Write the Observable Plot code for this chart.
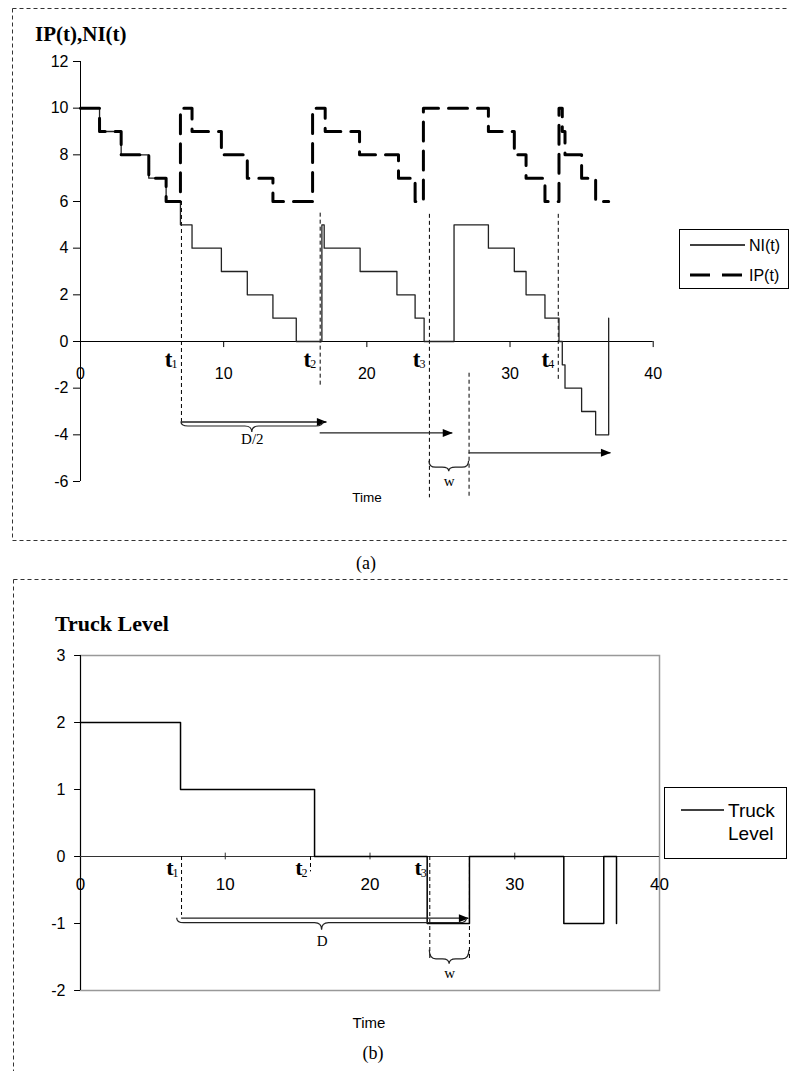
<!DOCTYPE html>
<html><head><meta charset="utf-8">
<script src="https://cdn.jsdelivr.net/npm/d3@7"></script>
<script src="https://cdn.jsdelivr.net/npm/@observablehq/plot@0.6"></script>
<style>
body{margin:0;background:#fff;}
#page{position:relative;width:789px;height:1071px;overflow:hidden;font-family:"Liberation Sans",Arial,sans-serif;color:#000;}
.abs{position:absolute;white-space:nowrap;}
.serif{font-family:"Liberation Serif","Times New Roman",serif;}
#page svg.plot{position:absolute;left:0;overflow:visible;}
</style></head><body><div id="page"></div>
<script>
// ---------- DATA ----------
// chart (a)
const xTicksA = [0, 10, 20, 30, 40];
const yTicksA = [-6, -4, -2, 0, 2, 4, 6, 8, 10, 12];
const niTime  = [0, 1.33, 2.84, 4.77, 5.98, 6.98, 7.79, 9.84, 11.65, 13.44, 15.07, 16.86, 17.02, 19.53, 22.10, 23.37, 24.00, 26.09, 28.49, 30.30, 31.12, 32.44, 33.42, 33.65, 33.84, 35.00, 35.98, 36.89];
const niValue = [10, 9, 8, 7, 6, 5, 4, 3, 2, 1, 0, 5, 4, 3, 2, 1, 0, 5, 4, 3, 2, 1, 0, -1, -2, -3, -4, 1];
const ipTime  = [0, 1.33, 2.84, 4.77, 5.98, 6.98, 7.79, 9.84, 11.65, 13.44, 16.21, 17.09, 19.49, 22.21, 23.37, 23.95, 28.49, 30.30, 31.12, 32.44, 33.42, 33.65, 33.84, 35.00, 35.98, 36.89];
const ipValue = [10, 9, 8, 7, 6, 10, 9, 8, 7, 6, 10, 9, 8, 7, 6, 10, 9, 8, 7, 6, 10, 9, 8, 7, 6, 6];
const markTimesA  = [7.05, 16.74, 24.37, 33.37, 27.14];
const markTopA    = [6, 5.5, 5.45, 5.45, -1.36];
const markBottomA = [-3.45, -2.0, -6.7, -1.7, -6.7];
const tLabelTimesA = [7.05, 16.74, 24.37, 33.37];
const tSubs = ["1", "2", "3", "4"];
const arrowStartA = [7.05, 16.74, 27.14];
const arrowEndA   = [17.21, 26.0, 37.05];
const arrowLevelA = [-3.45, -3.92, -4.77];
const braceStartA = [7.05, 24.37];
const braceEndA   = [16.95, 27.14];
const braceLevelA = [-3.45, -5.13];
const braceLabelA = ["D/2", "w"];
const braceLabelLevelA = [-4.2, -5.99];

// chart (b)
const xTicksB = [0, 10, 20, 30, 40];
const yTicksB = [-2, -1, 0, 1, 2, 3];
const truckTime  = [0, 6.91, 16.17, 23.95, 26.87, 33.39, 36.15, 37.03];
const truckLevel = [2, 1, 0, -1, 0, -1, 0, -1];
const markTimesB  = [6.98, 15.89, 24.13, 26.87];
const markTopB    = [0, 0, 0, 0];
const markBottomB = [-0.88, -0.23, -1.55, -1.55];
const tLabelTimesB = [6.98, 15.89, 24.13];
const arrowStartB = [6.98];
const arrowEndB   = [26.83];
const arrowLevelB = [-0.92];
const braceStartB = [6.68, 24.13];
const braceEndB   = [26.7, 26.87];
const braceLevelB = [-0.92, -1.40];
const braceLabelB = ["D", "w"];
const braceLabelLevelB = [-1.26, -1.74];

// ---------- helpers ----------
const page = document.getElementById("page");
const SANS = "Liberation Sans, Arial, sans-serif";
const SERIF = "Liberation Serif, Times New Roman, serif";
const arrowHead = {draw(ctx, size) {
  const r = Math.sqrt(size / Math.PI);
  ctx.moveTo(0, 0); ctx.lineTo(-2 * r, -0.8 * r); ctx.lineTo(-2 * r, 0.8 * r); ctx.closePath();
}};
function braceMark(starts, ends, levels, h1, h2) {
  return (index, scales) => {
    const g = d3.create("svg:g").attr("fill", "none").attr("stroke", "#222").attr("stroke-width", 1.2);
    starts.forEach((s, i) => {
      const x1 = scales.x(s), x2 = scales.x(ends[i]), y0 = scales.y(levels[i]);
      const xm = (x1 + x2) / 2, r = Math.min(7, (x2 - x1) / 6), yh = y0 + h1[i];
      const p = d3.path();
      p.moveTo(x1, y0);
      p.quadraticCurveTo(x1, yh, x1 + r, yh);
      p.lineTo(xm - r, yh);
      p.quadraticCurveTo(xm, yh, xm, yh + h2[i]);
      p.quadraticCurveTo(xm, yh, xm + r, yh);
      p.lineTo(x2 - r, yh);
      p.quadraticCurveTo(x2, yh, x2, y0);
      g.append("path").attr("d", p.toString());
    });
    return g.node();
  };
}
function addText(txt, css, cls) {
  const d = document.createElement("div");
  d.className = "abs " + (cls || "");
  d.textContent = txt;
  Object.assign(d.style, css);
  page.appendChild(d);
  return d;
}

// ---------- dashed frames ----------
const frameSvg = d3.create("svg").attr("width", 789).attr("height", 1071)
  .style("position", "absolute").style("left", 0).style("top", 0);
const fg = frameSvg.append("g").attr("stroke", "#333").attr("stroke-width", 1).attr("stroke-dasharray", "4,3");
fg.append("line").attr("x1", 12.5).attr("y1", 8.5).attr("x2", 795).attr("y2", 8.5);
fg.append("line").attr("x1", 12.5).attr("y1", 8.5).attr("x2", 12.5).attr("y2", 540.5);
fg.append("line").attr("x1", 12.5).attr("y1", 540.5).attr("x2", 795).attr("y2", 540.5);
fg.append("line").attr("x1", 13.5).attr("y1", 579.5).attr("x2", 795).attr("y2", 579.5);
fg.append("line").attr("x1", 13.5).attr("y1", 579.5).attr("x2", 13.5).attr("y2", 1080);
page.appendChild(frameSvg.node());

// ---------- chart (a) ----------
const ni = niTime.map((t, i) => ({t, v: niValue[i]}));
const ip = ipTime.map((t, i) => ({t, v: ipValue[i]}));
const marksA = markTimesA.map((t, i) => ({t, y1: markTopA[i], y2: markBottomA[i]}));
const arrowsA = arrowStartA.map((s, i) => ({x1: s, x2: arrowEndA[i], y: arrowLevelA[i]}));
const tLabA = tLabelTimesA.map((t, i) => ({t, s: tSubs[i]}));
const bLabA = braceLabelA.map((l, i) => ({x: (braceStartA[i] + braceEndA[i]) / 2, y: braceLabelLevelA[i], l}));

const plotA = Plot.plot({
  width: 789, height: 545,
  marginLeft: 80, marginRight: 136.3, marginTop: 61, marginBottom: 64,
  style: {fontFamily: SANS, fontSize: "16px", background: "transparent", overflow: "visible"},
  x: {domain: [0, 40], axis: null},
  y: {domain: [-6, 12], axis: null},
  marks: [
    Plot.ruleX([0], {y1: -6, y2: 12, stroke: "#000"}),
    Plot.ruleY(yTicksA, {y: d => d, x1: -0.49, x2: 0, stroke: "#000"}),
    Plot.text(yTicksA, {x: 0, y: d => d, dx: -12, text: d => String(d), textAnchor: "end", fontSize: 16, fontFamily: SANS}),
    Plot.ruleY([0], {x1: 0, x2: 40, stroke: "#000"}),
    Plot.ruleX(xTicksA.slice(1), {y1: 0, y2: -0.26, stroke: "#000"}),
    Plot.text(xTicksA, {x: d => d, y: 0, dy: 32, text: d => String(d), fontSize: 16, fontFamily: SANS}),
    Plot.ruleX(marksA, {x: "t", y1: "y1", y2: "y2", stroke: "#000", strokeWidth: 1, strokeDasharray: "4,3"}),
    Plot.line(ni, {x: "t", y: "v", curve: "step-after", stroke: "#222", strokeWidth: 1.3}),
    Plot.line(ip, {x: "t", y: "v", curve: "step-after", stroke: "#000", strokeWidth: 3, strokeDasharray: "19,10"}),
    Plot.ruleY(arrowsA, {y: "y", x1: "x1", x2: "x2", stroke: "#222", strokeWidth: 1.3}),
    Plot.dot(arrowsA, {x: "x2", y: "y", symbol: arrowHead, r: 5, fill: "#000", stroke: null}),
    braceMark(braceStartA, braceEndA, braceLevelA, [4.5, 6.5], [6, 4]),
    Plot.text(bLabA, {x: "x", y: "y", text: "l", fontSize: 15, fontFamily: SERIF}),
    Plot.text(tLabA, {x: "t", y: 0, text: () => "t", dx: -9, dy: 17.7, textAnchor: "end", fontSize: 23, fontWeight: "bold", fontFamily: SERIF}),
    Plot.text(tLabA, {x: "t", y: 0, text: "s", dx: -4, dy: 23, textAnchor: "end", fontSize: 12, fontFamily: SERIF})
  ]
});
plotA.classList.add("plot");
plotA.style.top = "0px";
page.appendChild(plotA);

// ---------- chart (b) ----------
const truck = truckTime.map((t, i) => ({t, v: truckLevel[i]}));
const marksB = markTimesB.map((t, i) => ({t, y1: markTopB[i], y2: markBottomB[i]}));
const arrowsB = arrowStartB.map((s, i) => ({x1: s, x2: arrowEndB[i], y: arrowLevelB[i]}));
const tLabB = tLabelTimesB.map((t, i) => ({t, s: tSubs[i]}));
const bLabB = braceLabelB.map((l, i) => ({x: (braceStartB[i] + braceEndB[i]) / 2, y: braceLabelLevelB[i], l}));

const plotB = Plot.plot({
  width: 789, height: 501,
  marginLeft: 80, marginRight: 130, marginTop: 85, marginBottom: 81,
  style: {fontFamily: SANS, fontSize: "16px", background: "transparent", overflow: "visible"},
  x: {domain: [0, 40], axis: null},
  y: {domain: [-2, 3], axis: null},
  marks: [
    Plot.frame({stroke: "#999", strokeWidth: 1.5}),
    Plot.ruleX([0], {y1: -2, y2: 3, stroke: "#000"}),
    Plot.ruleY(yTicksB, {y: d => d, x1: -0.41, x2: 0, stroke: "#000"}),
    Plot.text(yTicksB, {x: 0, y: d => d, dx: -15, text: d => String(d), textAnchor: "end", fontSize: 16, fontFamily: SANS}),
    Plot.ruleY([0], {x1: 0, x2: 40, stroke: "#333"}),
    Plot.ruleX(xTicksB.slice(1, 4), {y1: -0.05, y2: 0.05, stroke: "#333"}),
    Plot.text(xTicksB, {x: d => d, y: 0, dy: 28.3, text: d => String(d), fontSize: 17, fontFamily: SANS}),
    Plot.ruleX(marksB, {x: "t", y1: "y1", y2: "y2", stroke: "#000", strokeWidth: 1, strokeDasharray: "4,3"}),
    Plot.line(truck, {x: "t", y: "v", curve: "step-after", stroke: "#000", strokeWidth: 1.5}),
    Plot.ruleY(arrowsB, {y: "y", x1: "x1", x2: "x2", stroke: "#222", strokeWidth: 1.3}),
    Plot.dot(arrowsB, {x: "x2", y: "y", symbol: arrowHead, r: 5, fill: "#000", stroke: null}),
    braceMark(braceStartB, braceEndB, braceLevelB, [5, 9], [7, 5]),
    Plot.text(bLabB, {x: "x", y: "y", text: "l", fontSize: 15, fontFamily: SERIF}),
    Plot.text(tLabB, {x: "t", y: 0, text: () => "t", dx: -8, dy: 11.6, textAnchor: "end", fontSize: 22, fontWeight: "bold", fontFamily: SERIF}),
    Plot.text(tLabB, {x: "t", y: 0, text: "s", dx: -3, dy: 17, textAnchor: "end", fontSize: 12, fontFamily: SERIF})
  ]
});
plotB.classList.add("plot");
plotB.style.top = "570px";
page.appendChild(plotB);

// ---------- titles, captions ----------
addText("IP(t),NI(t)", {left: "35px", top: "22px", fontSize: "21px", fontWeight: "bold", lineHeight: "24px"}, "serif");
addText("Truck Level", {left: "55px", top: "611px", fontSize: "22px", fontWeight: "bold", lineHeight: "26px"}, "serif");
addText("Time", {left: "367px", top: "490px", fontSize: "13.5px", transform: "translateX(-50%)", lineHeight: "16px"});
addText("Time", {left: "369px", top: "1014px", fontSize: "15px", transform: "translateX(-50%)", lineHeight: "18px"});
addText("(a)", {left: "366px", top: "552px", fontSize: "18px", transform: "translateX(-50%)", lineHeight: "22px"}, "serif");
addText("(b)", {left: "373px", top: "1042px", fontSize: "18px", transform: "translateX(-50%)", lineHeight: "22px"}, "serif");

// ---------- legends ----------
function legend(box, items) {
  const d = document.createElement("div");
  d.className = "abs";
  Object.assign(d.style, {left: box.x + "px", top: box.y + "px", width: box.w + "px", height: box.h + "px",
    border: "1px solid #000", boxSizing: "border-box", background: "#fff"});
  page.appendChild(d);
  const s = d3.create("svg").attr("width", box.w).attr("height", box.h).style("position", "absolute").style("left", "-1px").style("top", "-1px");
  items.forEach(it => {
    if (it.line) s.append("line").attr("x1", it.lx1).attr("x2", it.lx2).attr("y1", it.y).attr("y2", it.y)
      .attr("stroke", "#000").attr("stroke-width", it.sw).attr("stroke-dasharray", it.dash || null);
    s.append("text").attr("x", it.tx).attr("y", it.y).attr("dy", "0.35em").attr("font-size", it.fs)
      .attr("font-family", SANS).text(it.text);
  });
  d.appendChild(s.node());
}
legend({x: 679, y: 229, w: 110, h: 60}, [
  {line: true, lx1: 11, lx2: 66, y: 16, sw: 1.3, tx: 70, fs: 16, text: "NI(t)"},
  {line: true, lx1: 11, lx2: 63, y: 46, sw: 3, dash: "20,12", tx: 70, fs: 16, text: "IP(t)"}
]);
legend({x: 664, y: 787, w: 123, h: 72}, [
  {line: true, lx1: 17, lx2: 60, y: 23, sw: 1.3, tx: 64, fs: 19, text: "Truck"},
  {line: false, y: 46, tx: 64, fs: 19, text: "Level"}
]);
</script>
</body></html>
